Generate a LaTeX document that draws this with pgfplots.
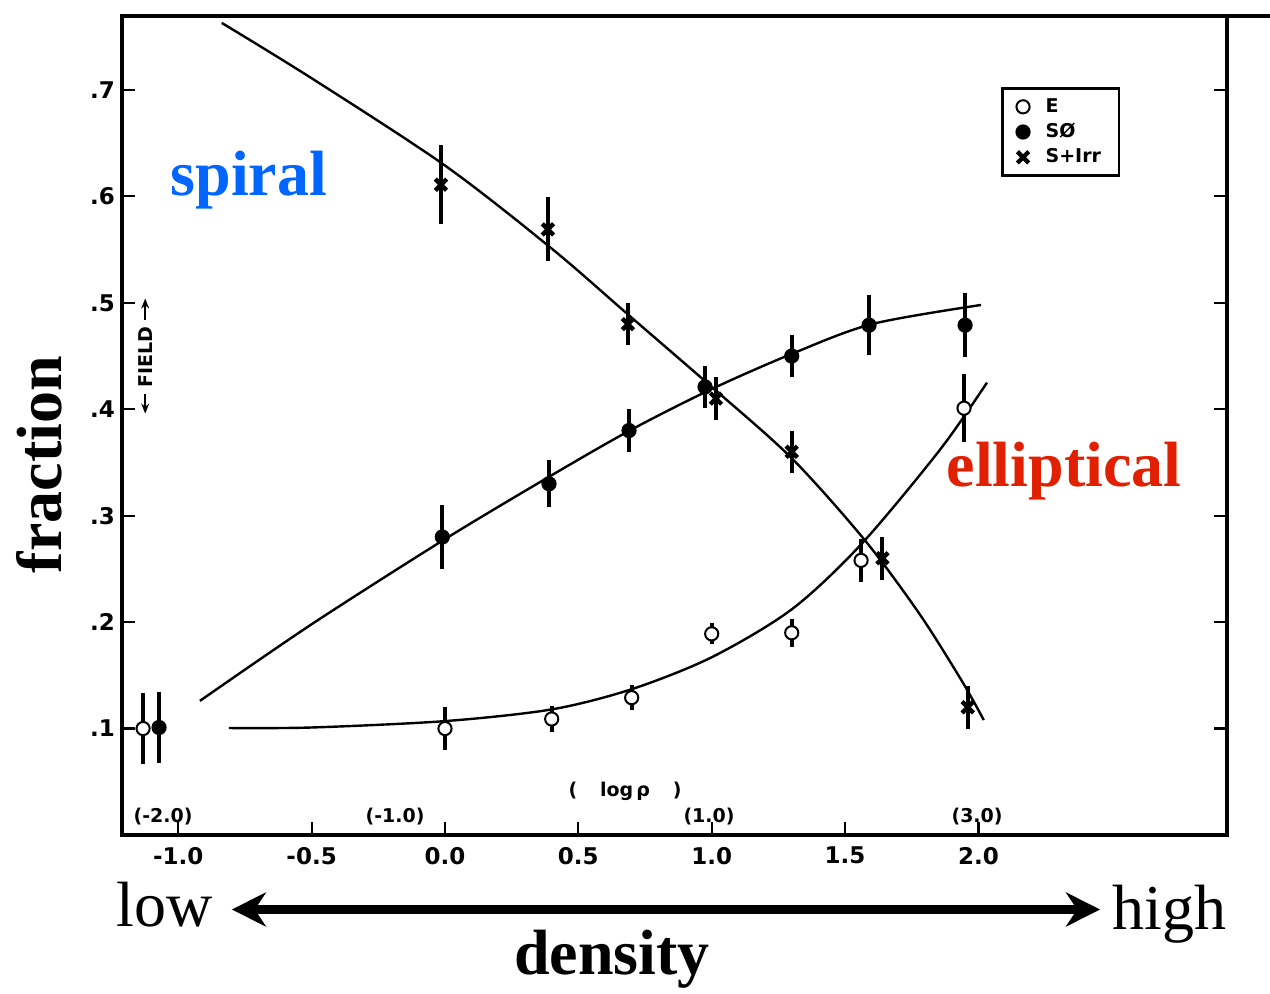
\documentclass[border=0pt]{standalone}
\usepackage{pgfplots}
\pgfplotsset{compat=1.18}
\usepackage{pgfplotstable}
\usepackage{fontspec}
\setmainfont{Liberation Serif}
\newfontfamily\sansb{DejaVu Sans}
\usetikzlibrary{arrows.meta}
\definecolor{spiralblue}{HTML}{0066FF}
\definecolor{ellred}{HTML}{E02000}

\pgfplotstableread{
x y e
-1.132 0.100 0.033
0.000 0.100 0.020
0.400 0.109 0.012
0.700 0.129 0.012
1.000 0.189 0.010
1.300 0.190 0.013
1.560 0.258 0.020
1.946 0.401 0.032
}\Edata

\pgfplotstableread{
x y e
-1.072 0.101 0.033
-0.010 0.280 0.030
0.390 0.330 0.022
0.690 0.380 0.020
0.975 0.421 0.020
1.300 0.450 0.020
1.590 0.479 0.028
1.950 0.479 0.030
}\Sdata

\pgfplotstableread{
x y e
-0.015 0.611 0.037
0.386 0.569 0.030
0.686 0.480 0.020
1.016 0.410 0.020
1.300 0.360 0.020
1.640 0.260 0.020
1.960 0.120 0.020
}\Idata

\begin{document}
\begin{tikzpicture}
\begin{axis}[
  scale only axis,
  width=552.5pt, height=409.5pt,
  xmin=-1.211, xmax=2.932, ymin=0, ymax=0.7695,
  axis line style={line width=1.6pt},
  xtick={-1,-0.5,0,0.5,1,1.5,2},
  xticklabels={-1.0,-0.5,0.0,0.5,1.0,1.5,2.0},
  ytick={0.1,0.2,0.3,0.4,0.5,0.6,0.7},
  yticklabels={.1,.2,.3,.4,.5,.6,.7},
  xtick pos=bottom, ytick pos=both, yticklabel pos=left,
  tick align=inside, major tick length=6.5pt,
  tick style={line width=1.1pt, black},
  tick label style={font=\sansb\bfseries\fontsize{11.5}{11.5}\selectfont},
  xticklabel style={yshift=-2.5pt},
  clip=false,
  legend style={at={(rel axis cs:0.7955,0.9133)}, anchor=north west,
    draw=black, line width=1.4pt,
    font=\sansb\bfseries\fontsize{9.5}{9.5}\selectfont,
    inner xsep=7pt, inner ysep=3pt, row sep=0pt,
    /tikz/every odd column/.append style={column sep=6pt},
    cells={anchor=west}},
]
% fitted curves
\addplot[smooth, tension=0.5, line width=1.2pt, black, forget plot] coordinates {
(-0.837,0.763) (-0.5,0.711) (0,0.629) (0.4,0.551) (0.7,0.486) (1.0,0.421)
(1.3,0.354) (1.574,0.277) (1.781,0.207) (1.942,0.143) (2.02,0.108)};
\addplot[smooth, tension=0.5, line width=1.2pt, black, forget plot] coordinates {
(-0.919,0.126) (-0.5,0.198) (0,0.278) (0.4,0.338) (0.7,0.381) (1.0,0.419)
(1.3,0.452) (1.6,0.480) (2.01,0.498)};
\addplot[smooth, tension=0.5, line width=1.2pt, black, forget plot] coordinates {
(-0.81,0.1005) (-0.5,0.101) (0,0.107) (0.4,0.118) (0.7,0.137) (1.0,0.167)
(1.3,0.212) (1.56,0.273) (1.856,0.362) (2.032,0.425)};
% data
\addplot[only marks, black, mark=*, mark size=3.3pt,
  mark options={fill=white, draw=black, line width=1pt},
  error bars/.cd, y dir=both, y explicit, error mark=none,
  error bar style={line width=2pt, black}]
  table[x=x, y=y, y error=e] {\Edata};
\addlegendentry{E}
\addplot[only marks, black, mark=*, mark size=3.3pt,
  mark options={fill=black, draw=black, line width=1pt},
  error bars/.cd, y dir=both, y explicit, error mark=none,
  error bar style={line width=2pt, black}]
  table[x=x, y=y, y error=e] {\Sdata};
\addlegendentry{S\O}
\addplot[only marks, black, mark=x, mark size=4pt,
  mark options={draw=black, line width=2.2pt},
  error bars/.cd, y dir=both, y explicit, error mark=none,
  error bar style={line width=2pt, black}]
  table[x=x, y=y, y error=e] {\Idata};
\addlegendentry{S+Irr}

% annotations
\node[anchor=base, font=\bfseries\fontsize{32}{32}\selectfont, text=spiralblue]
  at (axis cs:-0.735,0.601) {spiral};
\node[anchor=base, font=\bfseries\fontsize{32}{32}\selectfont, text=ellred]
  at (axis cs:2.321,0.327) {elliptical};
\node[anchor=base, rotate=90, font=\bfseries\fontsize{32}{32}\selectfont]
  at (axis cs:-1.436,0.348) {fraction};
\node[anchor=base, font=\bfseries\fontsize{32}{32}\selectfont]
  at (axis cs:0.626,-0.131) {density};
\node[anchor=base, font=\fontsize{32}{32}\selectfont]
  at (axis cs:-1.05,-0.086) {low};
\node[anchor=base, font=\fontsize{32}{32}\selectfont]
  at (axis cs:2.715,-0.089) {high};
\draw[line width=4.5pt, {Stealth[length=17pt,width=17pt]}-{Stealth[length=17pt,width=17pt]}]
  (axis cs:-0.799,-0.070) -- (axis cs:2.456,-0.070);

% log rho labels
\begin{scope}[every node/.style={font=\sansb\bfseries\fontsize{9.5}{9.5}\selectfont}]
\node at (axis cs:-1.057,0.0174) {(-2.0)};
\node at (axis cs:-0.187,0.0174) {(-1.0)};
\node at (axis cs:0.990,0.0174) {(1.0)};
\node at (axis cs:1.995,0.0174) {(3.0)};
\node at (axis cs:0.675,0.041) {(\hspace{1.2em}log\,ρ\hspace{1.2em})};
\end{scope}

% FIELD marker
\node[rotate=90, font=\sansb\bfseries\fontsize{9.5}{9.5}\selectfont] at (axis cs:-1.124,0.449) {FIELD};
\draw[line width=1.1pt, -{Stealth[length=5pt,width=4pt]}] (axis cs:-1.124,0.484) -- (axis cs:-1.124,0.504);
\draw[line width=1.1pt, -{Stealth[length=5pt,width=4pt]}] (axis cs:-1.124,0.414) -- (axis cs:-1.124,0.396);

% top spine overhang
\draw[line width=1.6pt] (rel axis cs:1,1) -- ++(5.5pt,0);
\coordinate (SW) at (rel axis cs:0,0);
\end{axis}
\pgfresetboundingbox
\path (SW) ++(-61pt,-79.5pt) rectangle ++(635pt,497pt);
\end{tikzpicture}
\end{document}
